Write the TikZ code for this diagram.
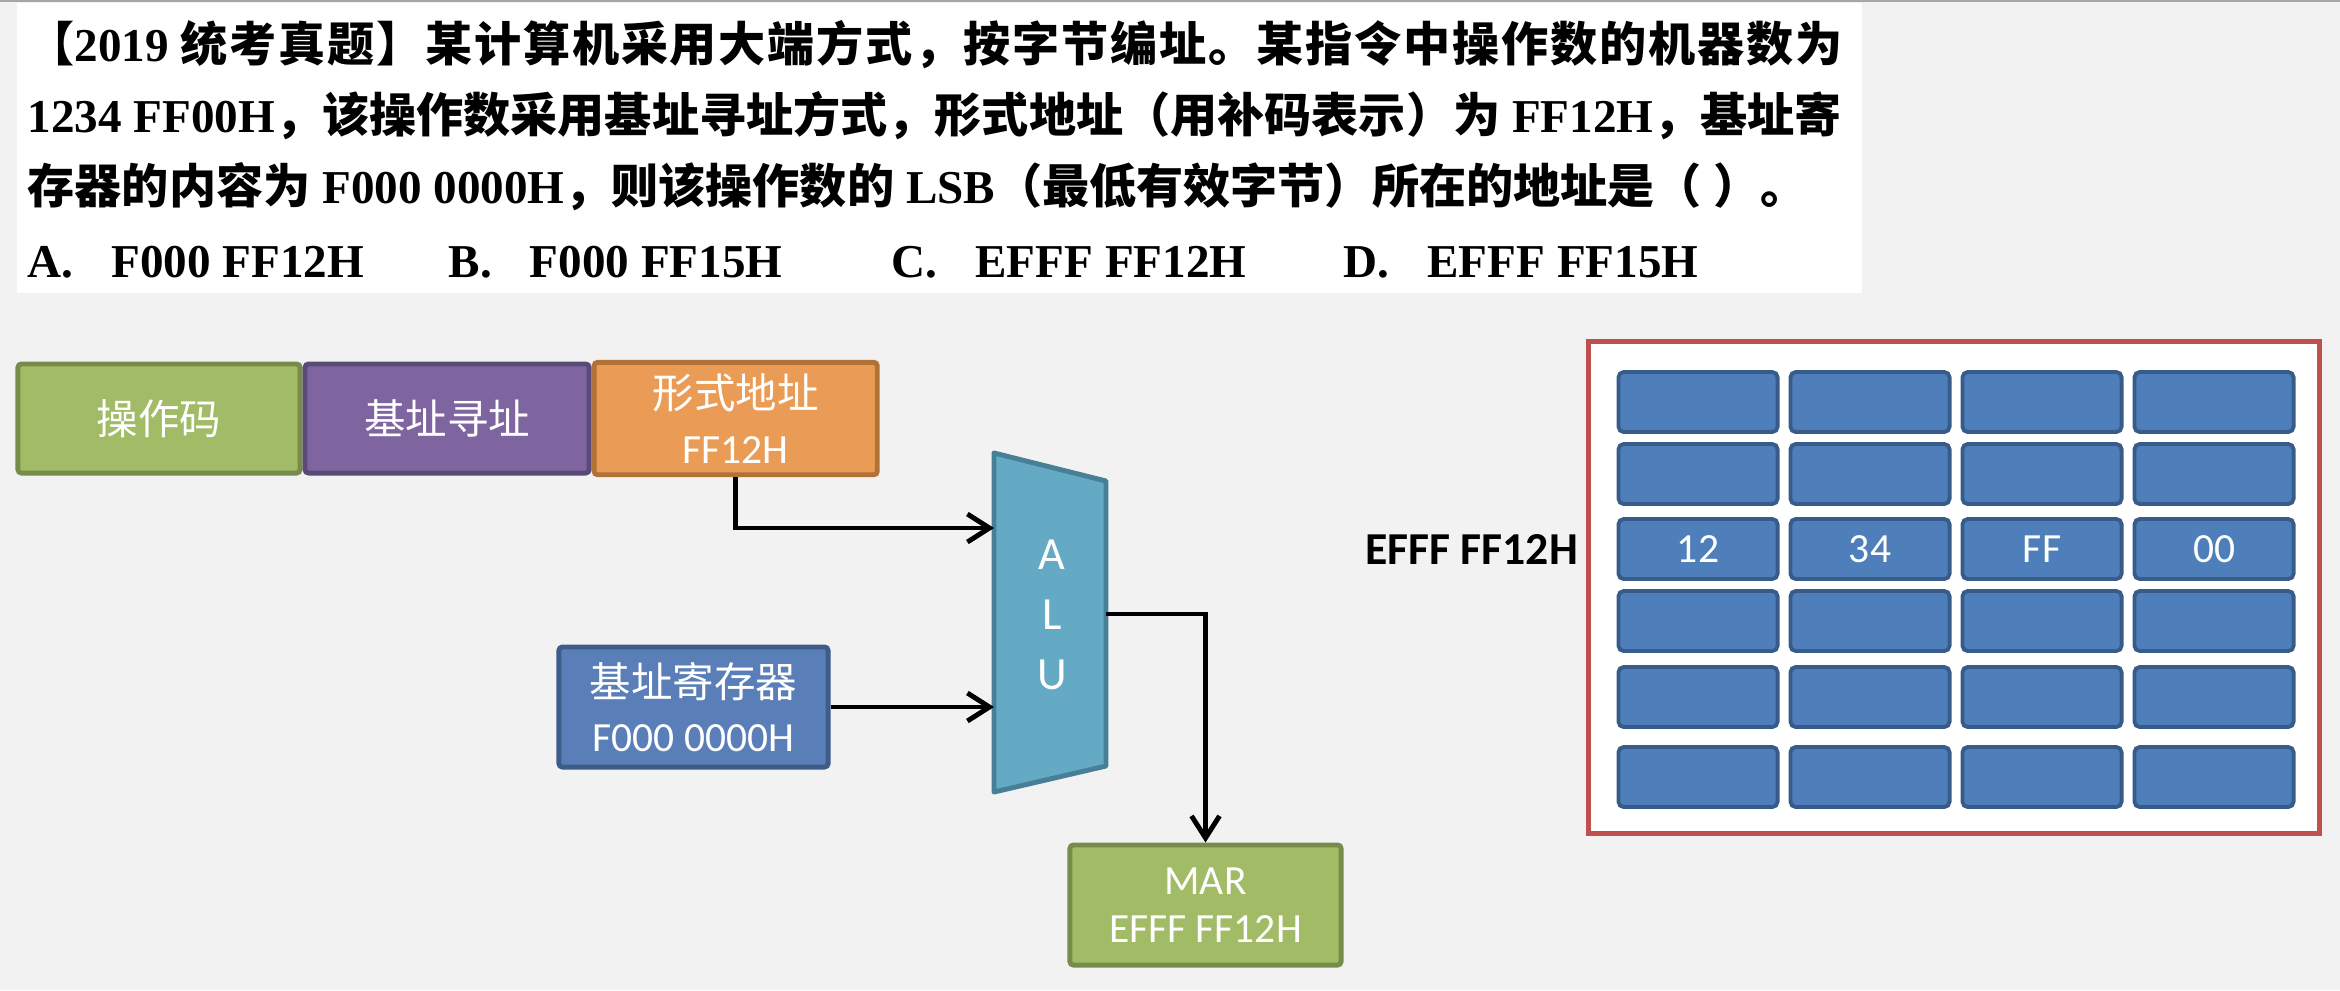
\documentclass[tikz,border=0pt]{standalone}
\usepackage{fontspec}
\setmainfont{Liberation Serif}
\newfontfamily\cjk{Noto Sans CJK SC}
\newfontfamily\calibri{Carlito}
\usetikzlibrary{arrows.meta, positioning}
\definecolor{pagegray}{HTML}{F2F2F2}
\definecolor{opgreen}{HTML}{A2BB66}
\definecolor{opgreenline}{HTML}{778C4B}
\definecolor{modepurple}{HTML}{7E65A0}
\definecolor{modepurpleline}{HTML}{5A4A78}
\definecolor{addrorange}{HTML}{EA9C56}
\definecolor{addrorangeline}{HTML}{B17236}
\definecolor{regblue}{HTML}{5A7FB8}
\definecolor{regblueline}{HTML}{3D5C8A}
\definecolor{alublue}{HTML}{65AAC5}
\definecolor{alublueline}{HTML}{477F96}
\definecolor{cellblue}{HTML}{4E7FBA}
\definecolor{cellblueline}{HTML}{385C8A}
\definecolor{framered}{HTML}{C0504D}

\begin{document}
\begin{tikzpicture}[x=0.01cm, y=-0.01cm]
\tikzstyle{qtext} = [anchor=base west, inner sep=0pt, font=\bfseries\fontsize{13.4pt}{16pt}\selectfont]
\tikzstyle{field} = [rectangle, rounded corners=1pt, minimum height=1.09cm, line width=1.4pt, text=white, align=center, font=\calibri\fontsize{11.8pt}{15.4pt}\selectfont]
\tikzstyle{cell} = [rectangle, rounded corners=1.5pt, minimum width=1.59cm, minimum height=0.60cm, line width=1.1pt, draw=cellblueline, fill=cellblue, text=white, font=\calibri\fontsize{11.8pt}{14pt}\selectfont]
\tikzstyle{arr} = [line width=1.4pt, -{Straight Barb[length=2.2mm, width=2.8mm]}]

\useasboundingbox (0,0) rectangle (2340,990);
\fill[pagegray] (0,0) rectangle (2340,990);
\fill[white] (17,3) rectangle (1862,293);
\draw[line width=0.8pt, gray!70] (0,1) -- (2340,1);

% question
\node (q1) [qtext] at (27,61) {{\cjk\addfontfeature{LetterSpace=3.8}【}2019 {\cjk\addfontfeature{LetterSpace=3.8}统考真题】某计算机采用大端方式，按字节编址。某指令中操作数的机器数为}};
\node (q2) [qtext] at (27,132) {1234 FF00H{\cjk ，该操作数采用基址寻址方式，形式地址（用补码表示）为} FF12H{\cjk ，基址寄}};
\node (q3) [qtext] at (27,203) {{\cjk 存器的内容为} F000 0000H{\cjk ，则该操作数的} LSB{\cjk （最低有效字节）所在的地址是（}\ {\cjk ）。}};
\node (optA) [qtext] at (27,277) {A.\hspace{0.38cm}F000 FF12H};
\node (optB) [qtext] at (448,277) {B.\hspace{0.38cm}F000 FF15H};
\node (optC) [qtext] at (891,277) {C.\hspace{0.38cm}EFFF FF12H};
\node (optD) [qtext] at (1343,277) {D.\hspace{0.38cm}EFFF FF15H};

% instruction
\node (opcode) [field, minimum width=2.82cm, draw=opgreenline, fill=opgreen] at (159,418.5) {\cjk 操作码};
\node (mode) [field, minimum width=2.84cm, draw=modepurpleline, fill=modepurple, right=0pt of opcode] {\cjk 基址寻址};
\node (addr) [field, minimum width=2.83cm, draw=addrorangeline, fill=addrorange, right=0pt of mode] {{\cjk 形式地址}\\FF12H};
\node (basereg) [field, minimum width=2.69cm, minimum height=1.20cm, draw=regblueline, fill=regblue] at (693.5,707) {{\cjk 基址寄存器}\\F000 0000H};
\node (mar) [field, minimum width=2.71cm, minimum height=1.20cm, draw=opgreenline, fill=opgreen, font=\calibri\fontsize{11.8pt}{13.7pt}\selectfont] at (1205.5,905) {MAR\\EFFF FF12H};

% ALU
\draw[line width=1.4pt, draw=alublueline, fill=alublue, line join=round] (994,453) -- (1106,481) -- (1106,766) -- (994,792) -- cycle;
\coordinate (aluin1) at (994,528);
\coordinate (aluout) at (1106,614);
\node (alu) [text=white, align=center, font=\calibri\fontsize{13.1pt}{17pt}\selectfont] at (1052,615) {A\\L\\U};

\draw[arr] (addr.south) |- (aluin1);
\draw[arr] (basereg.east) -- (basereg.east -| aluin1);
\draw[arr] (aluout) -| (mar.north);

% memory
\node (mem) [draw=framered, fill=white, line width=1.4pt, minimum width=7.3cm, minimum height=4.91cm, inner sep=0pt] at (1954,587.5) {};
\foreach \r/\y in {1/402,2/474,4/621,5/697,6/777}
  \foreach \x [count=\c] in {1698,1870,2042,2214}
    \node (cell\r\c) [cell] at (\x,\y) {};
\foreach \v [count=\c] in {12,34,FF,00}
  \node (cell3\c) [cell] at ({1698+172*(\c-1)},549) {\v};
\node (lsb) [left=0.38cm of cell31, inner sep=0pt, font=\calibri\bfseries\fontsize{13pt}{15pt}\selectfont] {EFFF FF12H};

\end{tikzpicture}
\end{document}
